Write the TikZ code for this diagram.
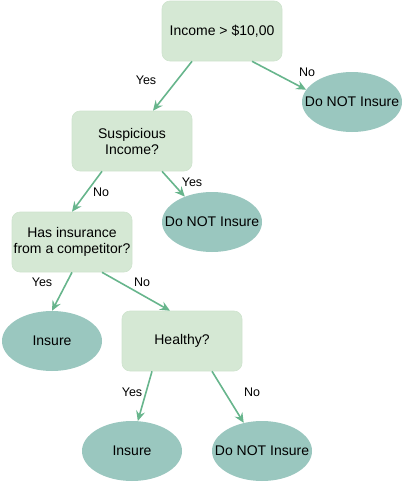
\documentclass[tikz,border=0pt]{standalone}
\usepackage{fontspec}
\setmainfont{Liberation Sans}
\usetikzlibrary{shapes.geometric,arrows.meta}
\definecolor{boxfill}{HTML}{D5E8D4}
\definecolor{boxline}{HTML}{CFE3CE}
\definecolor{leaffill}{HTML}{9AC7BF}
\definecolor{arrowc}{HTML}{67B58C}
\tikzset{
  decision/.style={draw=boxline, line width=0.6pt, fill=boxfill, rounded corners=8pt, minimum width=120pt, minimum height=60pt, inner sep=0pt, align=center, font=\fontsize{14}{16}\selectfont},
  leaf/.style={ellipse, fill=leaffill, minimum width=100pt, minimum height=60pt, inner xsep=-12pt, inner ysep=0pt, align=center, font=\fontsize{14}{16}\selectfont},
  edge/.style={draw=arrowc, line width=1.6pt, -{Stealth[length=10pt,width=9pt,inset=3.5pt]}},
  lbl/.style={font=\fontsize{12.5}{14}\selectfont, inner sep=0pt}
}
\begin{document}
\begin{tikzpicture}[x=1pt,y=-1pt]
\useasboundingbox (0,0) rectangle (402,482);
\node[decision] (n1) at (222,31) {Income > \$10,00};
\node[leaf] (e1) at (352,102) {Do NOT Insure};
\node[decision] (n2) at (132,141) {Suspicious\\Income?};
\node[leaf] (e2) at (212,222) {Do NOT Insure};
\node[decision] (n3) at (72,242) {Has insurance\\from a competitor?};
\node[leaf] (e3) at (52,341) {Insure};
\node[decision] (n4) at (182,341) {Healthy?};
\node[leaf] (e4) at (132,451) {Insure};
\node[leaf] (e5) at (262,451) {Do NOT Insure};

\draw[edge] ([xshift=-30pt]n1.south) -- ([xshift=21pt]n2.north);
\draw[edge] ([xshift=30pt]n1.south) -- (e1.165);
\draw[edge] ([xshift=-30pt]n2.south) -- (n3.north);
\draw[edge] ([xshift=30pt]n2.south) -- (e2.137);
\draw[edge] (n3.south) -- (e3.north);
\draw[edge] ([xshift=30pt]n3.south) -- ([xshift=-12pt]n4.north);
\draw[edge] ([xshift=-30pt]n4.south) -- (e4.79);
\draw[edge] ([xshift=30pt]n4.south) -- (e5.123);

\node[lbl] (l1) at (146,80) {Yes};
\node[lbl] (l2) at (307,72) {No};
\node[lbl] (l3) at (101,192) {No};
\node[lbl] (l4) at (192,182) {Yes};
\node[lbl] (l5) at (42,282) {Yes};
\node[lbl] (l6) at (142,282) {No};
\node[lbl] (l7) at (132,392) {Yes};
\node[lbl] (l8) at (252,392) {No};
\end{tikzpicture}
\end{document}
